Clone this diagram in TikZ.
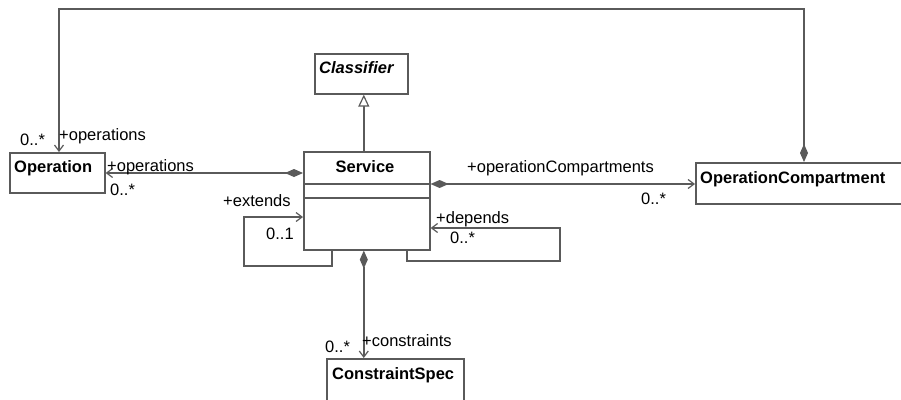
\documentclass[tikz,border=0pt]{standalone}
\usepackage{fontspec}
\setmainfont{Liberation Sans}
\usetikzlibrary{arrows.meta}
\definecolor{ln}{HTML}{5A5A5A}
\tikzset{
  cls/.style={draw=ln, line width=1.6pt, fill=white, inner sep=0pt, anchor=north west},
  txt/.style={inner sep=0pt, font=\fontsize{16.5}{19}\selectfont, text=black},
  ttl/.style={txt, font=\fontsize{16.5}{19}\selectfont\bfseries},
  wire/.style={draw=ln, line width=1.6pt},
  comp/.style={wire, {Diamond[length=18pt,width=8pt,fill=ln]}-{Straight Barb[length=6pt,width=9pt,line width=1.2pt]}},
  nav/.style={wire, -{Straight Barb[length=6pt,width=9pt,line width=1.2pt]}},
  gen/.style={wire, -{Triangle[open,length=12pt,width=11pt,fill=white,line width=1.2pt]}}
}
\begin{document}
\begin{tikzpicture}[x=1pt,y=-1pt]
\clip (0,0) rectangle (901,399);
\fill[white] (0,0) rectangle (901,399);
% boxes
\node[cls, minimum width=93pt, minimum height=40pt] (cls) at (314,53) {};
\node[cls, minimum width=126pt, minimum height=98pt] (svc) at (303,151) {};
\node[cls, minimum width=95pt, minimum height=40pt] (op) at (9,152) {};
\node[cls, minimum width=215pt, minimum height=41pt] (oc) at (695,162) {};
\node[cls, minimum width=137pt, minimum height=50pt] (cs) at (326,358) {};
\draw[wire] ([yshift=-33pt]svc.north west) -- ([yshift=-33pt]svc.north east);
\draw[wire] ([yshift=-47pt]svc.north west) -- ([yshift=-47pt]svc.north east);
% titles
\node[ttl, anchor=base west, font=\fontsize{16.5}{19}\selectfont\bfseries\itshape] (clsT) at (319,73) {Classifier};
\node[ttl, anchor=base] (svcT) at (365,172) {Service};
\node[ttl, anchor=base west] (opT) at (14,172) {Operation};
\node[ttl, anchor=base west] (ocT) at (700,183) {OperationCompartment};
\node[ttl, anchor=base west] (csT) at (332,379) {ConstraintSpec};
% connectors
\draw[gen] ([xshift=-3pt]svc.north) -- ([xshift=-3pt]svc.north |- cls.south);
\draw[comp] ([yshift=-22pt]svc.north west) -- ([yshift=-21pt]op.north east);
\draw[comp] ([yshift=-33pt]svc.north east) -- ([yshift=-22pt]oc.north west);
\coordinate (topR) at (804,9);
\draw[comp] ([xshift=109pt]oc.north west) -- (topR) -| ([xshift=50pt]op.north west);
\coordinate (extC) at (244,266);
\draw[nav] ([xshift=29pt]svc.south west) |- (extC) |- ([yshift=-66pt]svc.north west);
\coordinate (depC) at (560,261);
\draw[nav] ([xshift=104pt]svc.south west) |- (depC) |- ([yshift=-77pt]svc.north east);
\draw[comp] ([xshift=-3pt]svc.south) -- ([xshift=-3pt]svc.south |- cs.north);
% role labels
\node[txt, anchor=base west] (m1) at (20,145) {0..*};
\node[txt, anchor=base west] (r1) at (59,140) {+operations};
\node[txt, anchor=base west] (r2) at (107,171) {+operations};
\node[txt, anchor=base west] (m2) at (110,195) {0..*};
\node[txt, anchor=base west] (r3) at (223,206) {+extends};
\node[txt, anchor=base west] (m3) at (266,239) {0..1};
\node[txt, anchor=base west] (r4) at (436,223) {+depends};
\node[txt, anchor=base west] (m4) at (450,243) {0..*};
\node[txt, anchor=base west] (r5) at (467,172) {+operationCompartments};
\node[txt, anchor=base west] (m5) at (641,204) {0..*};
\node[txt, anchor=base west] (r6) at (362,346) {+constraints};
\node[txt, anchor=base west] (m6) at (325,352) {0..*};
\end{tikzpicture}
\end{document}
